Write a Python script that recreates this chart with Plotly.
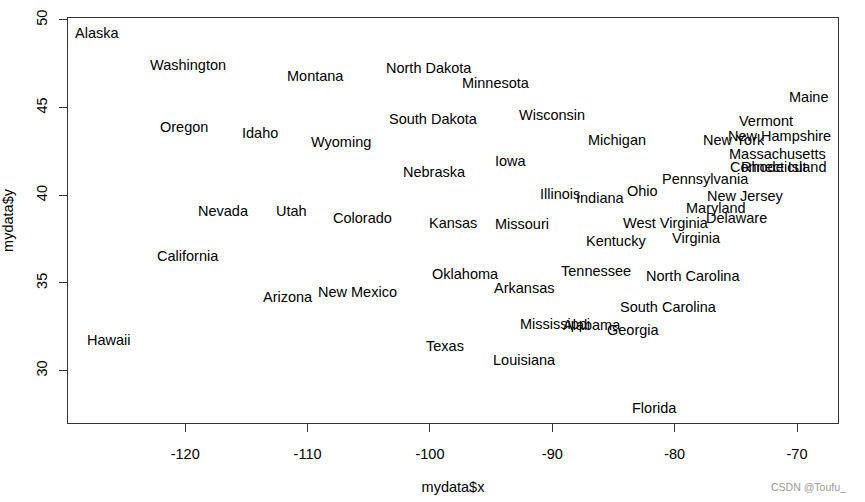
import plotly.graph_objects as go

states = ["Alabama","Alaska","Arizona","Arkansas","California","Colorado","Connecticut",
          "Delaware","Florida","Georgia","Hawaii","Idaho","Illinois","Indiana","Iowa",
          "Kansas","Kentucky","Louisiana","Maine","Maryland","Massachusetts","Michigan",
          "Minnesota","Mississippi","Missouri","Montana","Nebraska","Nevada","New Hampshire",
          "New Jersey","New Mexico","New York","North Carolina","North Dakota","Ohio",
          "Oklahoma","Oregon","Pennsylvania","Rhode Island","South Carolina","South Dakota",
          "Tennessee","Texas","Utah","Vermont","Virginia","Washington","West Virginia",
          "Wisconsin","Wyoming"]

x_vals = [-86.7509,-127.2500,-111.6250,-92.2992,-119.7730,-105.5130,-72.3573,
          -74.9841,-81.6850,-83.3736,-126.2500,-113.9300,-89.3776,-86.0808,-93.3714,
          -98.1156,-84.7674,-92.2724,-68.9801,-76.6459,-71.5800,-84.6870,
          -94.6043,-89.8065,-92.5137,-109.3200,-99.5898,-116.8510,-71.3924,
          -74.2336,-105.9420,-75.1449,-78.4686,-100.0990,-82.5963,
          -97.1239,-120.0680,-77.4500,-71.1244,-80.5056,-99.7238,
          -86.4560,-98.7857,-111.3300,-72.5450,-78.2005,-119.7460,-80.6665,
          -89.9941,-107.2560]

y_vals = [32.5901,49.2500,34.2192,34.7336,36.5341,38.6777,41.5928,
          38.6777,27.8744,32.3329,31.7500,43.5648,40.0495,39.8717,41.9358,
          38.4204,37.3915,30.6181,45.6226,39.2778,42.3645,43.1361,
          46.3943,32.6758,38.3347,46.8230,41.3356,39.1063,43.3934,
          39.9637,34.4764,43.1361,35.4195,47.2517,40.2210,
          35.5053,43.9078,40.9069,41.5928,33.6190,44.3365,
          35.6767,31.3897,39.1063,44.2508,37.5630,47.4231,38.4204,
          44.5937,43.0504]

x_ticks = [-120, -110, -100, -90, -80, -70]
y_ticks = [30, 35, 40, 45, 50]

FONT = "Liberation Sans, Arial, sans-serif"
FS = 14.5

xmin, xmax = min(x_vals), max(x_vals)
ymin, ymax = min(y_vals), max(y_vals)
dx = (xmax - xmin) * 0.04
dy = (ymax - ymin) * 0.04

fig = go.Figure()
fig.add_trace(go.Scatter(
    x=x_vals, y=y_vals, mode="markers",
    marker=dict(size=1, opacity=0),
    hoverinfo="skip", showlegend=False,
))
for name, xv, yv in zip(states, x_vals, y_vals):
    fig.add_annotation(x=xv, y=yv, text=name, showarrow=False,
                       xanchor="center", yanchor="middle", yshift=0,
                       font=dict(family=FONT, size=FS, color="black"))

axis_common = dict(
    showgrid=False, zeroline=False, showline=True, mirror=True, automargin=False,
    linecolor="#333333", linewidth=1, ticks="outside", ticklen=8,
    tickcolor="#333333", tickwidth=1,
    tickfont=dict(family=FONT, size=FS, color="black"),
    title_font=dict(family=FONT, size=FS, color="black"),
)

fig.update_xaxes(range=[xmin - dx, xmax + dx], tickmode="array", tickvals=x_ticks,
                 ticktext=[str(t) for t in x_ticks], ticklabelstandoff=10,
                 title_text="mydata$x", title_standoff=20, **axis_common)
fig.update_yaxes(range=[ymin - dy, ymax + dy], tickmode="array", tickvals=y_ticks,
                 ticktext=[str(t) for t in y_ticks], tickangle=-90, ticklabelstandoff=6,
                 title_text="mydata$y", title_standoff=18, **axis_common)

fig.add_annotation(text="CSDN @Toufu_", xref="paper", yref="paper",
                   x=1.0, y=-0.158, xanchor="right", yanchor="middle", xshift=10,
                   showarrow=False, font=dict(family=FONT, size=10.5, color="#999999"))

fig.update_layout(
    width=865, height=502,
    margin=dict(l=68, r=27, t=18, b=79),
    paper_bgcolor="white", plot_bgcolor="white",
)

fig.write_html("out.html")
